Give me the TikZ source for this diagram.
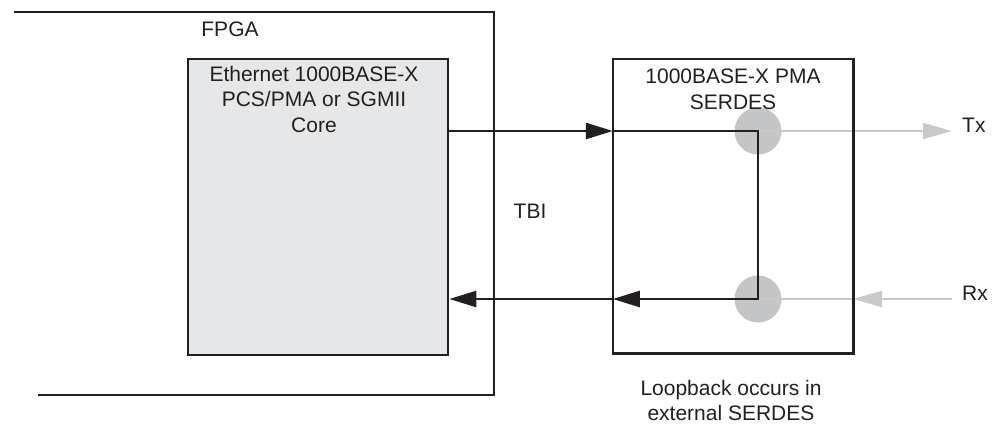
\documentclass[tikz,border=0pt]{standalone}
\usepackage{fontspec}
\setmainfont{Liberation Sans}
\usetikzlibrary{arrows.meta,backgrounds}
\definecolor{ink}{HTML}{231F20}
\definecolor{corefill}{HTML}{E6E7E8}
\definecolor{dotgray}{HTML}{C4C5C7}
\definecolor{linegray}{HTML}{C8C9CB}
\begin{document}
\begin{tikzpicture}[x=1pt,y=-1pt,
  txt/.style={font=\fontsize{21}{25.5}\selectfont, text=ink, inner sep=0pt, align=center},
  blk/.style={draw=ink, line width=2.6pt},
  arr/.style={draw=ink, line width=2.6pt, -{Triangle[length=27pt,width=16pt]}},
  garr/.style={draw=linegray, line width=2pt, -{Triangle[length=29pt,width=16pt]}},
  gline/.style={draw=linegray, line width=2pt},
  dot/.style={circle, fill=dotgray, minimum size=47pt, inner sep=0pt}]
\useasboundingbox (0,0) rectangle (995,426);
% FPGA outline
\draw[blk] (14,12) -- (494,12) -- (494,395) -- (38,395);
\node[txt] (fpga) at (230,29.5) {FPGA};
% core
\node[blk, fill=corefill, minimum width=260pt, minimum height=296pt, inner sep=0pt] (core) at (318,207) {};
\node[txt] (coretext) at (314,99) {Ethernet 1000BASE-X\\PCS/PMA or SGMII\\Core};
% SERDES box
\node[minimum width=240pt, minimum height=294pt, inner sep=0pt] (serdes) at (733,206) {};
\node[txt, anchor=west, inner xsep=10pt] (tx) at (952,125) {Tx};
\node[txt, anchor=west, inner xsep=10pt] (rx) at (952,293) {Rx};
\begin{scope}[on background layer]
  \node[dot] (c1) at (758,131) {};
  \node[dot] (c2) at (758,299) {};
  \draw[garr] (c1.center) -- (tx.west |- c1);
  \draw[gline] (c2.center) -- (serdes.east |- c2);
  \draw[garr] (rx.west |- c2) -- (serdes.east |- c2);
\end{scope}
\draw[blk] (serdes.north west) rectangle (serdes.south east);
\node[txt] (serdestext) at (733,89.5) {1000BASE-X PMA\\SERDES};
\node[txt] (tbi) at (530,211) {TBI};
\node[txt] (loop) at (731,400.5) {Loopback occurs in\\external SERDES};
% connectors
\draw[arr] (core.east |- c1) -- (serdes.west |- c1);
\draw[arr] (serdes.west |- c1) -- (c1.center) -- (c2.center) -- (serdes.west |- c2);
\draw[arr] (serdes.west |- c2) -- (core.east |- c2);
\end{tikzpicture}
\end{document}
